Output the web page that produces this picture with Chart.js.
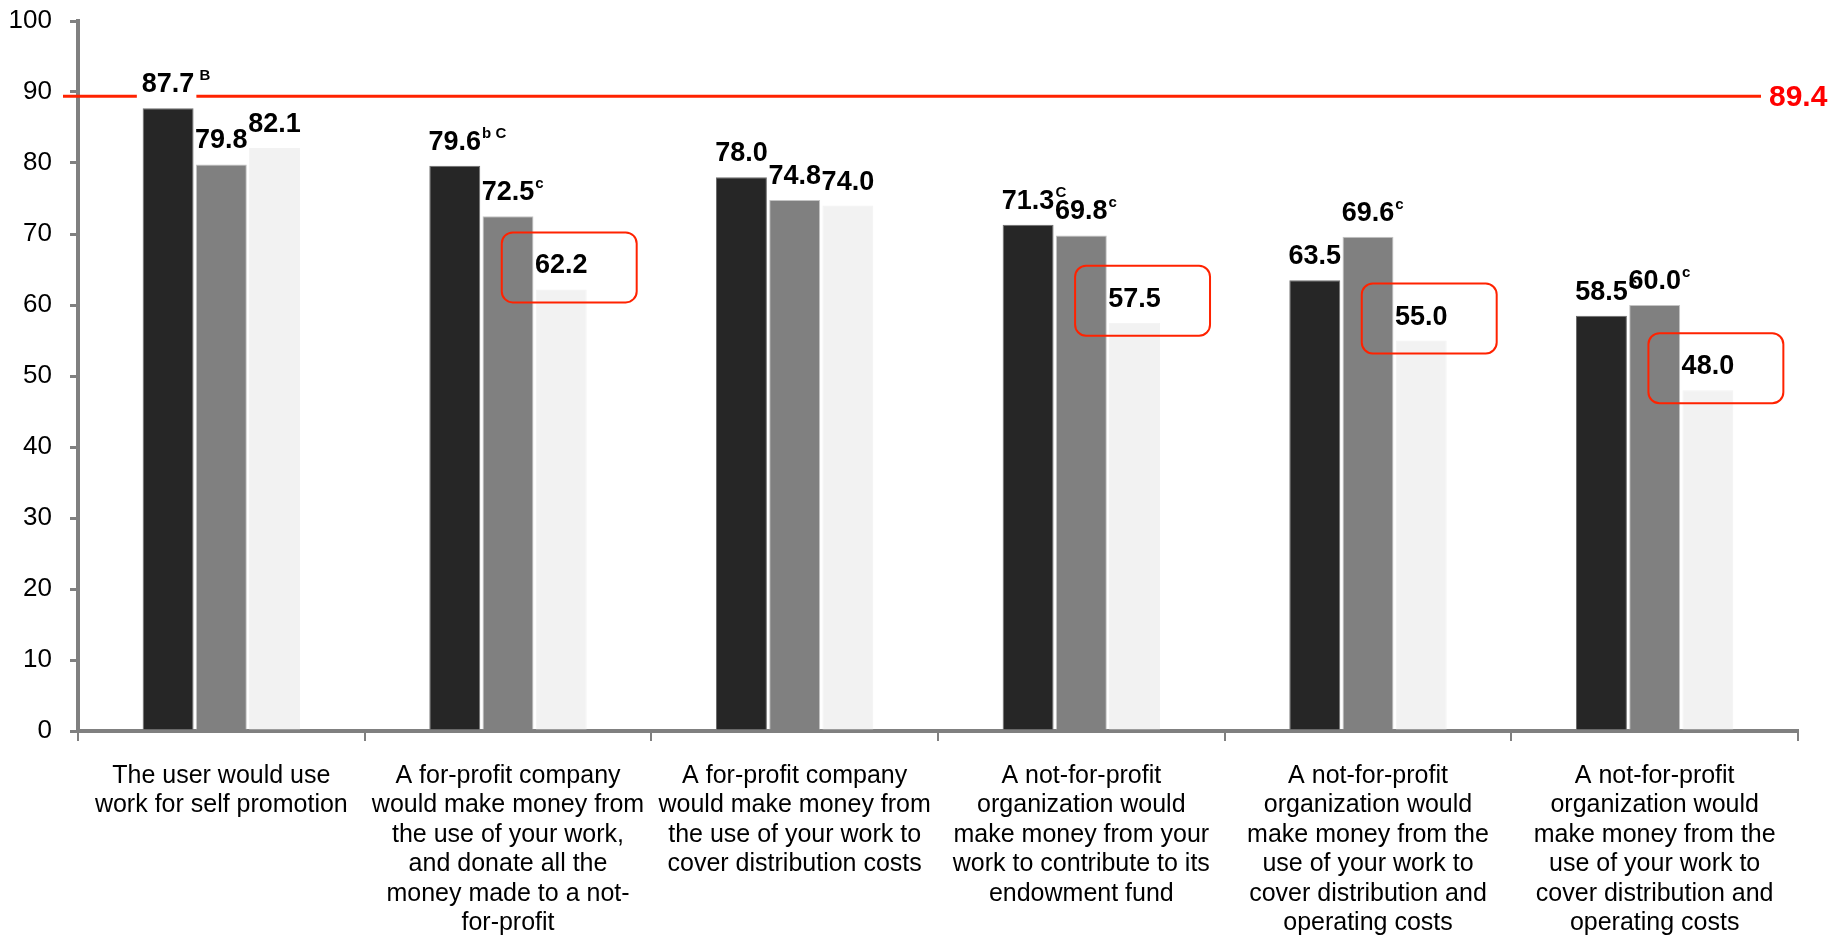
<!DOCTYPE html>
<html>
<head>
<meta charset="utf-8">
<title>Willingness by use</title>
<script src="https://cdn.jsdelivr.net/npm/chart.js@4.4.1/dist/chart.umd.min.js"></script>
<style>
    html, body { margin: 0; padding: 0; background: #fff; }
    #wrap { width: 1833px; height: 937px; }
</style>
</head>
<body>
<div id="wrap"><canvas id="chart" width="1833" height="937"></canvas></div>
<script>
// --- DATA ---
const categories = [
    ['The user would use', 'work for self promotion'],
    ['A for-profit company', 'would make money from', 'the use of your work,', 'and donate all the', 'money made to a not-', 'for-profit'],
    ['A for-profit company', 'would make money from', 'the use of your work to', 'cover distribution costs'],
    ['A not-for-profit', 'organization would', 'make money from your', 'work to contribute to its', 'endowment fund'],
    ['A not-for-profit', 'organization would', 'make money from the', 'use of your work to', 'cover distribution and', 'operating costs'],
    ['A not-for-profit', 'organization would', 'make money from the', 'use of your work to', 'cover distribution and', 'operating costs']
];
const seriesDark = [87.7, 79.6, 78.0, 71.3, 63.5, 58.5];
const seriesMid = [79.8, 72.5, 74.8, 69.8, 69.6, 60.0];
const seriesLight = [82.1, 62.2, 74.0, 57.5, 55.0, 48.0];
const notesDark = [' B', 'b C', '', 'C', '', 'c'];
const notesMid = ['', 'c', '', 'c', 'c', 'c'];
const notesLight = ['', '', '', '', '', ''];
const boxedLight = [false, true, false, true, true, true];
const referenceValue = 89.4;
const yTicks = [0, 10, 20, 30, 40, 50, 60, 70, 80, 90, 100];

const FONT = '"Liberation Sans", Arial, sans-serif';
const NARROW = '"Liberation Sans Narrow", "Arial Narrow", "Liberation Sans", Arial, sans-serif';
const RED = '#ff2200';

// --- ANNOTATIONS (reference line, boxes, value labels) ---
const annotations = {
    id: 'annotations',
    afterDatasetsDraw(chart) {
        const ctx = chart.ctx;
        const area = chart.chartArea;
        const refY = chart.scales.y.getPixelForValue(referenceValue);
        ctx.save();

        // rounded red boxes around highlighted light bars
        chart.getDatasetMeta(2).data.forEach((bar, i) => {
            if (!boxedLight[i]) return;
            const left = bar.x - bar.width / 2 - 34;
            const right = bar.x + bar.width / 2 + 50;
            ctx.beginPath();
            ctx.roundRect(left, bar.y - 57, right - left, 70, 11);
            ctx.lineWidth = 2;
            ctx.strokeStyle = RED;
            ctx.stroke();
        });

        // reference line + its value
        ctx.font = 'bold 30px ' + FONT;
        const refX = area.right - 29;
        ctx.beginPath();
        ctx.moveTo(area.left - 15, refY);
        ctx.lineTo(refX - 8, refY);
        ctx.lineWidth = 3;
        ctx.strokeStyle = RED;
        ctx.stroke();
        ctx.fillStyle = '#ff0000';
        ctx.textAlign = 'left';
        ctx.textBaseline = 'middle';
        ctx.fillText(referenceValue.toFixed(1), refX, refY + 1);

        // value labels with superscript notes
        const notes = [notesDark, notesMid, notesLight];
        ctx.textBaseline = 'alphabetic';
        chart.data.datasets.forEach((ds, di) => {
            chart.getDatasetMeta(di).data.forEach((bar, i) => {
                const txt = ds.data[i].toFixed(1);
                ctx.font = 'bold 27px ' + FONT;
                const w = ctx.measureText(txt).width;
                const x0 = bar.x - w / 2;
                const base = bar.y - 16;
                if (refY > base - 24 && refY < base + 6) {
                    ctx.fillStyle = '#fff';
                    ctx.fillRect(x0 - 5, refY - 3, w + 7, 6);
                }
                ctx.fillStyle = '#000';
                ctx.fillText(txt, x0, base);
                if (notes[di][i]) {
                    ctx.font = 'bold 15px ' + FONT;
                    ctx.fillText(notes[di][i], x0 + w + 1, base - 12);
                }
            });
        });
        ctx.restore();
    }
};

new Chart(document.getElementById('chart'), {
    type: 'bar',
    data: {
        labels: categories,
        datasets: [
            { data: seriesDark, backgroundColor: '#262626', borderColor: '#6e6e6e', borderWidth: 1 },
            { data: seriesMid, backgroundColor: '#808080', borderColor: '#c4c4c4', borderWidth: 1 },
            { data: seriesLight, backgroundColor: '#f2f2f2', borderColor: '#f2f2f2', borderWidth: 1 }
        ]
    },
    options: {
        responsive: false,
        animation: false,
        devicePixelRatio: 1,
        categoryPercentage: 0.557,
        barPercentage: 0.957,
        layout: { padding: { top: 21, right: 35, left: 0, bottom: 0 } },
        plugins: { legend: { display: false }, tooltip: { enabled: false } },
        scales: {
            x: {
                afterFit: axis => {
                    axis.height = 206;
                    axis.paddingLeft = 0;
                    axis.paddingRight = 0;
                },
                grid: { drawOnChartArea: false, color: '#808080', lineWidth: 2, tickLength: 10 },
                border: { color: '#808080', width: 4 },
                ticks: {
                    color: '#000',
                    font: { family: FONT, size: 25, lineHeight: 1.18 },
                    maxRotation: 0, minRotation: 0, autoSkip: false, padding: 20
                }
            },
            y: {
                min: 0, max: 100,
                afterBuildTicks: axis => { axis.ticks = yTicks.map(v => ({ value: v })); },
                afterFit: axis => {
                    axis.width = 78;
                    axis.paddingTop = 0;
                    axis.paddingBottom = 0;
                },
                grid: { drawOnChartArea: false, color: '#808080', lineWidth: 3, tickLength: 8 },
                border: { color: '#808080', width: 4 },
                ticks: { color: '#000', font: { family: NARROW, size: 26 }, padding: 18 }
            }
        }
    },
    plugins: [annotations]
});
</script>
</body>
</html>
